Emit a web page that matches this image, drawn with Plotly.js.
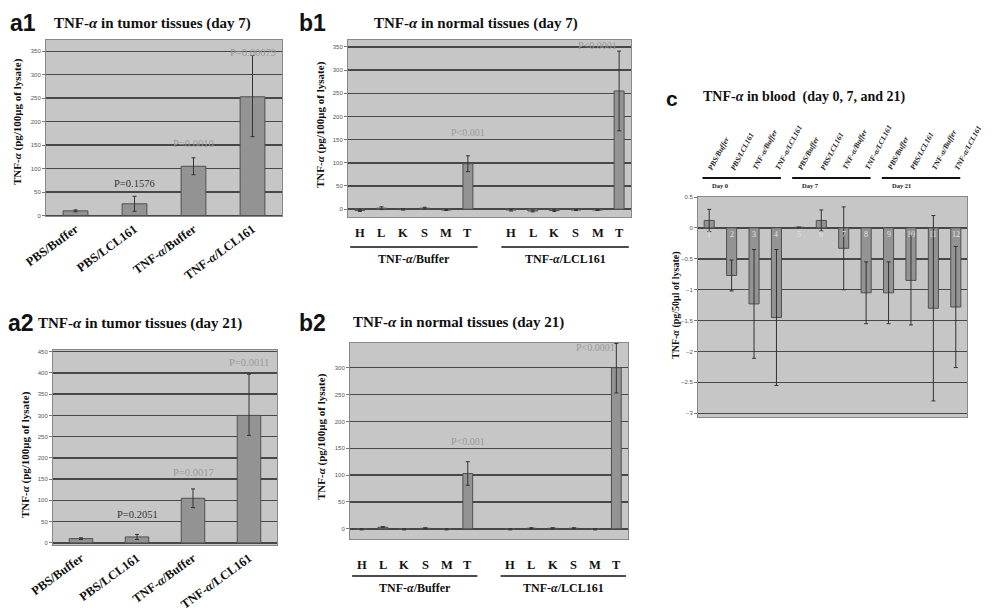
<!DOCTYPE html>
<html><head><meta charset="utf-8">
<script src="https://cdn.plot.ly/plotly-3.0.1.min.js"></script>
<style>html,body{margin:0;padding:0;background:#fff}#chart{width:996px;height:612px}</style>
</head><body><div id="chart"></div>
<script>
// ---------- data ----------
const tumorGroups = ['PBS/Buffer', 'PBS/LCL161', 'TNF-α/Buffer', 'TNF-α/LCL161'];
const a1Values = [10, 25, 105, 253];
const a1ErrPlus = [2, 16, 18, 88];
const a1ErrMinus = [2, 16, 18, 85];
const a1PText = ['', 'P=0.1576', 'P=0.0010', 'P=0.00079'];
const a2Values = [10, 14, 105, 300];
const a2ErrPlus = [2, 6, 22, 97];
const a2ErrMinus = [2, 6, 22, 47];
const a2PText = ['', 'P=0.2051', 'P=0.0017', 'P=0.0011'];

const tissues = ['H', 'L', 'K', 'S', 'M', 'T'];
const normalGroups = ['TNF-α/Buffer', 'TNF-α/LCL161'];
const b1Buffer = [-3, 2, -1, 2, -2, 98];
const b1BufferErr = [2, 3, 1, 2, 1, 17];
const b1LCL = [-2, -4, -3, -2, -2, 255];
const b1LCLErr = [2, 2, 2, 1, 1, 86];
const b1PText = ['P<0.001', 'P<0.0001'];
const b2Buffer = [-1, 3, -1, 1, -1, 103];
const b2BufferErr = [1, 1, 1, 1, 1, 22];
const b2LCL = [-1, 1, 1, 1, -1, 300];
const b2LCLErrPlus = [1, 1, 1, 1, 1, 45];
const b2LCLErrMinus = [1, 1, 1, 1, 1, 47];
const b2PText = ['P<0.001', 'P<0.0001'];

const bloodDays = ['Day 0', 'Day 7', 'Day 21'];
const bloodGroups = ['PBS/Buffer', 'PBS/LCL161', 'TNF-α/Buffer', 'TNF-α/LCL161'];
const bloodNumbers = ['1','2','3','4','5','6','7','8','9','10','11','12'];
const bloodValues = [0.12, -0.77, -1.23, -1.45, 0.01, 0.12, -0.33, -1.05, -1.05, -0.85, -1.30, -1.28];
const bloodErr = [0.18, 0.25, 0.88, 1.1, 0, 0.17, 0.67, 0.5, 0.5, 0.72, 1.5, 0.98];

// ---------- helpers ----------
const W = 996, H = 612;
const px = v => v / W;
const py = v => 1 - v / H;
const SERIF = 'Liberation Serif, Times New Roman, serif';
const SANS = 'Liberation Sans, Arial, sans-serif';
const BAR = {color: '#939393', line: {color: '#505050', width: 1}};
const ERR = (plus, minus) => ({type: 'data', array: plus, arrayminus: minus || plus, symmetric: !minus, color: '#333', thickness: 1, width: 2});
const italAlpha = s => s.replace('α', '<i>α</i>');

function yax(domain, range, dtick, anchor) {
  return {domain, range, dtick, anchor, showgrid: true, gridcolor: '#474747', gridwidth: 1.5,
    zeroline: true, zerolinecolor: '#474747', zerolinewidth: 1.5, showline: true, linecolor: '#888',
    linewidth: 1, mirror: true, ticks: 'outside', ticklen: 3, tickcolor: '#777',
    tickfont: {family: SANS, size: 6, color: '#555'}, fixedrange: true};
}
function xaxNum(domain, range, anchor) {
  return {domain, range, anchor, showgrid: false, zeroline: false, showticklabels: false, ticks: '',
    showline: true, linecolor: '#888', mirror: true, fixedrange: true};
}
function xaxCat(domain, anchor) {
  return {domain, anchor, type: 'category', range: [-0.5, 3.5], showgrid: false, zeroline: false,
    tickangle: -36, tickfont: {family: SERIF, size: 12.5, color: '#111', weight: 'bold'},
    tickvals: tumorGroups, ticktext: tumorGroups.map(italAlpha),
    showline: true, linecolor: '#888', mirror: true, ticks: '', fixedrange: true};
}

const bufX = tissues.map((t, i) => i);
const lclX = tissues.map((t, i) => i + 7);
const bloodX = bloodValues.map((v, i) => i);

// ---------- traces ----------
const traces = [
  {type: 'bar', x: tumorGroups, y: a1Values, xaxis: 'x', yaxis: 'y', width: 0.42, marker: BAR, error_y: ERR(a1ErrPlus, a1ErrMinus)},
  {type: 'bar', x: bufX, y: b1Buffer, xaxis: 'x2', yaxis: 'y2', width: 0.46, marker: BAR, error_y: ERR(b1BufferErr)},
  {type: 'bar', x: lclX, y: b1LCL, xaxis: 'x2', yaxis: 'y2', width: 0.46, marker: BAR, error_y: ERR(b1LCLErr)},
  {type: 'bar', x: tumorGroups, y: a2Values, xaxis: 'x3', yaxis: 'y3', width: 0.42, marker: BAR, error_y: ERR(a2ErrPlus, a2ErrMinus)},
  {type: 'bar', x: bufX, y: b2Buffer, xaxis: 'x4', yaxis: 'y4', width: 0.46, marker: BAR, error_y: ERR(b2BufferErr)},
  {type: 'bar', x: lclX, y: b2LCL, xaxis: 'x4', yaxis: 'y4', width: 0.46, marker: BAR, error_y: ERR(b2LCLErrPlus, b2LCLErrMinus)},
  {type: 'bar', x: bloodX, y: bloodValues, xaxis: 'x5', yaxis: 'y5', width: 0.45, marker: BAR, error_y: ERR(bloodErr)}
];

// ---------- annotations ----------
const ann = [];
function paperText(text, x, y, size, opts) {
  ann.push(Object.assign({xref: 'paper', yref: 'paper', x: px(x), y: py(y), text, showarrow: false,
    xanchor: 'left', yanchor: 'middle', font: {family: SERIF, size, color: '#111'}}, opts || {}));
}
// panel labels
paperText('<b>a1</b>', 8, 23, 23, {font: {family: SANS, size: 23, color: '#111'}});
paperText('<b>b1</b>', 297, 23, 23, {font: {family: SANS, size: 23, color: '#111'}});
paperText('<b>a2</b>', 6, 323, 23, {font: {family: SANS, size: 23, color: '#111'}});
paperText('<b>b2</b>', 297, 323, 23, {font: {family: SANS, size: 23, color: '#111'}});
paperText('<b>c</b>', 664, 99, 21, {font: {family: SANS, size: 21, color: '#111'}});
// titles
paperText('<b>' + italAlpha('TNF-α in tumor tissues (day 7)') + '</b>', 52, 24, 15);
paperText('<b>' + italAlpha('TNF-α in normal tissues (day 7)') + '</b>', 372, 24, 15);
paperText('<b>' + italAlpha('TNF-α in tumor tissues (day 21)') + '</b>', 36, 323, 15);
paperText('<b>' + italAlpha('TNF-α in normal tissues (day 21)') + '</b>', 351, 322, 15);
paperText('<b>' + italAlpha('TNF-α in blood  (day 0, 7, and 21)') + '</b>', 701, 97, 14);
// y titles
const yTitle = '<b>' + italAlpha('TNF-α (pg/100μg of lysate)') + '</b>';
paperText(yTitle, 18, 122, 11, {xanchor: 'center', textangle: -90});
paperText(yTitle, 321, 125, 11, {xanchor: 'center', textangle: -90});
paperText(yTitle, 25, 455, 11, {xanchor: 'center', textangle: -90});
paperText(yTitle, 321, 437, 11, {xanchor: 'center', textangle: -90});
paperText('<b>' + italAlpha('TNF-α (pg/50μl of lysate)') + '</b>', 676, 305, 10, {xanchor: 'center', textangle: -90});

// P values for tumor panels
const pDark = '#333', pLight = '#9a9a9a';
const a1PY = [0, 69, 154, 348];
a1PText.forEach((t, i) => { if (t) ann.push({xref: 'x', yref: 'y', x: tumorGroups[i], y: a1PY[i], text: t, showarrow: false,
  font: {family: SERIF, size: 10.5, color: i === 1 ? pDark : pLight}}); });
const a2PY = [0, 66, 165, 424];
a2PText.forEach((t, i) => { if (t) ann.push({xref: 'x3', yref: 'y3', x: tumorGroups[i], y: a2PY[i], text: t, showarrow: false,
  font: {family: SERIF, size: 10.5, color: i === 1 ? pDark : pLight}}); });
// P values for normal tissue panels
ann.push({xref: 'x2', yref: 'y2', x: bufX[5], y: 166, text: b1PText[0], showarrow: false, font: {family: SERIF, size: 10, color: pLight}});
ann.push({xref: 'x2', yref: 'y2', x: lclX[5] - 1, y: 354, text: b1PText[1], showarrow: false, font: {family: SERIF, size: 10, color: pLight}});
ann.push({xref: 'x4', yref: 'y4', x: bufX[5], y: 162, text: b2PText[0], showarrow: false, font: {family: SERIF, size: 10, color: pLight}});
ann.push({xref: 'x4', yref: 'y4', x: lclX[5] - 1, y: 337, text: b2PText[1], showarrow: false, font: {family: SERIF, size: 10, color: pLight}});

// tissue letters and group labels for b panels
const shapes = [];
function tissueLabels(xr, letterY, lineY, groupY) {
  [bufX, lclX].forEach((xs, g) => {
    xs.forEach((x, i) => ann.push({xref: xr, yref: 'paper', x, y: py(letterY), text: '<b>' + tissues[i] + '</b>',
      showarrow: false, yanchor: 'middle', font: {family: SERIF, size: 12.5, color: '#111'}}));
    shapes.push({type: 'line', xref: xr, yref: 'paper', x0: xs[0] - 0.45, x1: xs[5] + 0.45, y0: py(lineY), y1: py(lineY),
      line: {color: '#111', width: 1.5}});
    ann.push({xref: xr, yref: 'paper', x: (xs[0] + xs[5]) / 2, y: py(groupY), text: '<b>' + italAlpha(normalGroups[g]) + '</b>',
      showarrow: false, yanchor: 'middle', font: {family: SERIF, size: 12, color: '#111'}});
  });
}
tissueLabels('x2', 233, 247, 259);
tissueLabels('x4', 565, 576, 588);

// blood panel top labels
bloodX.forEach((x, i) => {
  ann.push({xref: 'x5', yref: 'paper', x, y: py(174), xshift: -6, text: '<b><i>' + bloodGroups[i % 4] + '</i></b>',
    textangle: -62, showarrow: false, xanchor: 'left', yanchor: 'bottom', font: {family: SERIF, size: 7.5, color: '#222'}});
  ann.push({xref: 'x5', yref: 'y5', x, y: -0.11, text: bloodNumbers[i], showarrow: false,
    font: {family: SERIF, size: 8, color: '#e2e2e2'}});
});
bloodDays.forEach((d, k) => {
  shapes.push({type: 'line', xref: 'x5', yref: 'paper', x0: 4 * k - 0.3, x1: 4 * k + 3.2, y0: py(178), y1: py(178),
    line: {color: '#111', width: 2}});
  ann.push({xref: 'x5', yref: 'paper', x: 4 * k + 0.05, y: py(185), text: '<b>' + d + '</b>', showarrow: false,
    xanchor: 'left', yanchor: 'middle', font: {family: SERIF, size: 6.5, color: '#222'}});
});

// ---------- layout ----------
const layout = {
  width: W, height: H, margin: {l: 0, r: 0, t: 0, b: 0}, showlegend: false,
  paper_bgcolor: '#ffffff', plot_bgcolor: '#c6c6c6', bargap: 0,
  xaxis: xaxCat([px(46), px(282)], 'y'),
  yaxis: yax([py(216), py(40)], [-1, 374], 50, 'x'),
  xaxis2: xaxNum([px(348), px(631)], [-0.55, 12.55], 'y2'),
  yaxis2: yax([py(217), py(40)], [-17, 365], 50, 'x2'),
  xaxis3: xaxCat([px(53), px(277)], 'y3'),
  yaxis3: yax([py(545), py(350)], [-5, 454], 50, 'x3'),
  xaxis4: xaxNum([px(350), px(628)], [-0.55, 12.55], 'y4'),
  yaxis4: yax([py(539), py(343)], [-19, 346], 50, 'x4'),
  xaxis5: xaxNum([px(698), px(967)], [-0.5, 11.5], 'y5'),
  yaxis5: yax([py(417), py(197)], [-3.06, 0.5], 0.5, 'x5'),
  annotations: ann, shapes
};

Plotly.newPlot('chart', traces, layout, {displayModeBar: false, staticPlot: true});
</script></body></html>
